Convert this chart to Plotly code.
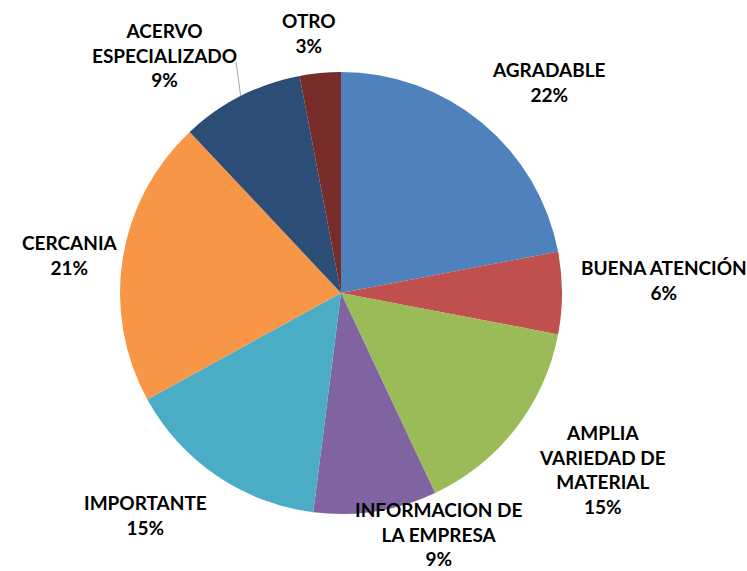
import math
import plotly.graph_objects as go

# Survey answers and their share (%)
categories = ["AGRADABLE", "BUENA ATENCIÓN", "AMPLIA VARIEDAD DE MATERIAL",
              "INFORMACION DE LA EMPRESA", "IMPORTANTE", "CERCANIA",
              "ACERVO ESPECIALIZADO", "OTRO"]
label_lines = ["AGRADABLE", "BUENA ATENCIÓN", "AMPLIA<br>VARIEDAD DE<br>MATERIAL",
               "INFORMACION DE<br>LA EMPRESA", "IMPORTANTE", "CERCANIA",
               "ACERVO<br>ESPECIALIZADO", "OTRO"]
values = [22, 6, 15, 9, 15, 21, 9, 3]

colors = ["#4F81BD", "#C0504D", "#9BBB59", "#8064A2",
          "#4BACC6", "#F79646", "#2C4D75", "#772C2A"]

# Label placement: distance from centre (px) and angular nudge (deg) from slice mid-angle
label_radius = [296, 323, 315, 260, 296, 274, 296, 262]
label_nudge = [-5, 2.3, 3.8, 13, -7.2, 1, 9.5, 1.6]

W, H = 747, 571
CX, CY, R = 341, 293, 221  # pie centre / radius in pixels (from top-left)

dom_x = [(CX - R) / W, (CX + R) / W]
dom_y = [(H - CY - R) / H, (H - CY + R) / H]

fig = go.Figure(go.Pie(
    labels=categories,
    values=values,
    sort=False,
    direction="clockwise",
    rotation=0,
    marker=dict(colors=colors, line=dict(width=0)),
    textinfo="none",
    hoverinfo="label+percent",
    showlegend=False,
    domain=dict(x=dom_x, y=dom_y),
))


def to_paper(r, ang_deg):
    a = math.radians(ang_deg)
    px = CX + r * math.cos(a)
    py = CY - r * math.sin(a)
    return px / W, (H - py) / H


total = sum(values)
start = 90.0
annotations = []
shapes = []
for i, v in enumerate(values):
    span = 360.0 * v / total
    mid = start - span / 2
    start -= span
    x, y = to_paper(label_radius[i], mid + label_nudge[i])
    pct = round(100 * v / total)
    annotations.append(dict(
        x=x, y=y, xref="paper", yref="paper",
        text=f"{label_lines[i]}<br>{pct}%",
        showarrow=False, align="center",
        xanchor="center", yanchor="middle",
        font=dict(family="Lato, sans-serif",
                  size=19, color="#000000", weight="bold"),
    ))
    if categories[i] == "ACERVO ESPECIALIZADO":
        x0, y0 = to_paper(R, mid)
        x1, y1 = to_paper(254, mid - 2.6)
        shapes.append(dict(type="line", xref="paper", yref="paper",
                           x0=x0, y0=y0, x1=x1, y1=y1,
                           line=dict(color="#A6A6A6", width=1)))

fig.update_layout(
    width=W, height=H,
    margin=dict(l=0, r=0, t=0, b=0),
    paper_bgcolor="white",
    plot_bgcolor="white",
    annotations=annotations,
    shapes=shapes,
)

fig.write_html("out.html")
